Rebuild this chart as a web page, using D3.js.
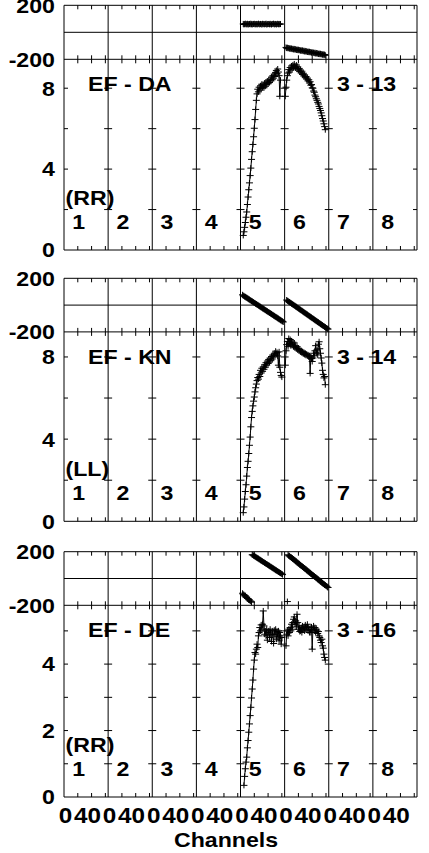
<!DOCTYPE html>
<html><head><meta charset="utf-8">
<script src="https://cdn.jsdelivr.net/npm/d3@7"></script>
<style>
body{margin:0;background:#fff}
svg{display:block}
text{font-family:"Liberation Sans",Arial,sans-serif;font-weight:bold;fill:#000}
</style>
</head><body>
<svg id="c" width="429" height="853"></svg>
<script>
// ---------------- categories / labels ----------------
const ifNames = ["1","2","3","4","5","6","7","8"];
const baselineNames = ["EF - DA","EF - KN","EF - DE"];
const scanNames = ["3 - 13","3 - 14","3 - 16"];
const polNames = ["(RR)","(LL)","(RR)"];
const ampMax = [9.43, 9.22, 5.77];
const ampTickVals = [[2,4,6,8],[2,4,6,8],[1,2,3,4,5]];
const ampLabelVals = [[0,4,8],[0,4,8],[0,2,4]];
const phaseLabelVals = [200,-200];
const chanTickVals = [20,40,60];
const chanLabelVals = [0,40];
const xTitle = "Channels";

// ---------------- data: first channel of each series ----------------
const startDA5amp = 4, startDA6amp = 1, startDA5phs = 4, startDA6phs = 2;
const startKN5amp = 4, startKN6amp = 1, startKN5phs = 3, startKN6phs = 3;
const startDE5amp = 5, startDE6amp = 2, startDE5phs = 3, startDE6phs = 4;

// EF - DA (RR)
const ampDA5 = [0.72,0.9,1.12,1.36,1.62,1.88,2.25,2.62,2.98,3.32,
  3.68,4.05,4.48,4.86,5.22,5.6,6.02,6.45,6.95,7.4,
  7.72,7.95,7.82,8.05,7.9,8.12,7.98,8.2,8.05,8.15,
  8.02,8.25,8.1,8.3,8.18,8.35,8.22,8.4,8.28,8.45,
  8.36,8.55,8.42,8.62,8.5,8.7,8.58,8.78,8.88,8.72,
  8.95,8.8,8.62,7.6,8.4];
const ampDA6 = [7.6,8.05,8.4,8.62,8.75,8.92,8.8,9.02,8.9,9.1,
  8.98,9.15,9.02,9.2,9.08,9.0,9.15,8.95,9.06,8.9,
  8.98,8.82,8.9,8.75,8.84,8.68,8.74,8.6,8.66,8.52,
  8.58,8.45,8.5,8.36,8.42,8.26,8.32,8.15,8.18,8.02,
  8.0,7.86,7.8,7.66,7.58,7.48,7.4,7.3,7.22,7.1,
  7.0,6.9,6.78,6.64,6.5,6.38,6.24,6.1,5.95];
const phsDA5 = [62,58,61,64,59,60,63,57,61,62,
  59,64,60,58,62,61,63,59,60,62,
  58,61,64,60,59,62,61,57,63,60,
  62,59,61,64,58,60,62,61,59,63,
  60,58,62,61,64,59,60,62,58,61,
  63,60,59,62,61];
const phsDA6 = [-112,-117,-114,-119,-116,-121,-118,-123,-120,-125,
  -122,-127,-123,-129,-125,-131,-127,-132,-129,-134,
  -131,-136,-133,-138,-134,-140,-136,-142,-138,-144,
  -140,-146,-142,-147,-144,-149,-146,-151,-148,-153,
  -150,-155,-151,-157,-153,-159,-155,-161,-157,-162,
  -159,-164,-161,-166,-163,-168,-165,-170];

// EF - KN (LL)
const ampKN5 = [0.42,0.7,1.08,1.45,1.78,2.2,2.62,2.92,3.3,3.7,
  4.1,4.6,5.05,5.35,5.62,5.85,6.05,6.3,6.5,6.68,
  6.85,7.0,6.92,7.15,7.05,7.35,7.22,7.45,7.3,7.52,
  7.4,7.62,7.5,7.72,7.6,7.8,7.68,7.88,7.75,7.95,
  7.82,8.02,7.9,8.1,8.0,8.18,8.08,8.28,8.15,8.22,
  8.05,7.6,8.25,7.5,7.25,7.1,7.02];
const ampKN6 = [7.6,8.3,8.6,8.75,8.5,8.9,8.65,8.85,8.55,8.78,
  8.6,8.72,8.5,8.68,8.45,8.55,8.4,8.5,8.35,8.42,
  8.3,8.36,8.25,8.3,8.2,8.26,8.15,8.22,8.12,8.18,
  8.08,8.14,8.05,8.1,8.0,8.06,7.2,8.0,7.92,7.78,
  7.95,8.18,8.05,8.3,8.55,8.2,8.35,8.1,8.62,8.74,
  8.4,8.18,7.95,7.7,7.35,7.15,6.98,7.05,6.65];
const phsKN5 = [77,70,69,63,62,56,56,50,49,43,
  42,36,35,29,29,23,22,16,15,9,
  8,2,2,-4,-5,-11,-12,-18,-19,-25,
  -25,-31,-32,-38,-39,-45,-46,-52,-53,-58,
  -59,-65,-66,-72,-73,-79,-80,-86,-87,-92,
  -93,-99,-100,-106,-107,-113,-114,-120,-121,-126];
const phsKN6 = [38,32,31,25,23,18,16,10,9,3,
  2,-4,-5,-11,-12,-18,-20,-26,-27,-33,
  -34,-40,-41,-47,-49,-55,-56,-62,-63,-69,
  -70,-76,-78,-84,-85,-91,-92,-98,-99,-105,
  -107,-113,-114,-120,-121,-127,-128,-134,-136,-142,
  -143,-149,-150,-156,-157,-163,-164,-171,-172,-177,-179];

// EF - DE (RR)
const ampDE5 = [0.35,0.62,0.85,1.05,1.2,1.48,1.7,1.95,2.2,2.45,
  2.7,2.98,3.25,3.52,3.85,4.12,4.35,4.3,4.45,4.6,
  4.5,4.85,4.95,5.1,5.0,5.18,5.05,5.2,5.6,5.15,
  4.9,5.0,4.85,5.05,4.72,4.95,5.0,4.8,5.05,4.9,
  4.68,5.0,4.88,4.62,5.02,4.9,5.05,4.75,4.98,4.82,
  5.0,4.7,4.95,4.85,4.6,4.8];
const ampDE6 = [4.55,4.9,5.0,4.85,5.05,4.95,5.1,5.0,5.2,5.05,
  5.25,5.35,5.42,5.2,5.3,5.12,5.5,5.25,5.05,5.15,
  4.98,5.0,5.1,4.95,5.15,5.05,5.12,5.0,5.18,5.05,
  5.12,5.2,5.0,5.1,4.95,5.05,4.95,5.12,4.45,5.05,
  5.15,5.0,5.1,4.95,5.05,5.0,4.92,4.98,4.85,4.8,
  4.72,4.65,4.75,4.55,4.48,4.3,4.2,4.12];
const phsDE5 = [-110,-119,-121,-129,-130,-139,-140,-149,-150,-158,
  -160,-168,-170,-177,
  177,176,170,169,163,162,156,155,150,149,
  143,142,136,135,130,128,123,122,116,115,
  109,108,103,101,96,95,89,88,83,81,
  76,75,69,68,62,61,56,54,49,48,
  42,41,36,34,29];
const phsDE6 = [-172,
  177,170,169,162,160,154,152,145,144,137,
  135,128,127,120,118,112,110,103,101,95,
  93,86,85,78,76,70,68,61,59,53,
  51,44,43,36,34,28,26,19,17,11,
  9,2,1,-6,-8,-14,-16,-23,-25,-31,
  -33,-40,-41,-48,-50,-56,-58,-65,-67];

// ---------------- build series table ----------------
const ampSeries = [
  {p:0, ifn:"5", start:startDA5amp, v:ampDA5},
  {p:0, ifn:"6", start:startDA6amp, v:ampDA6},
  {p:1, ifn:"5", start:startKN5amp, v:ampKN5},
  {p:1, ifn:"6", start:startKN6amp, v:ampKN6},
  {p:2, ifn:"5", start:startDE5amp, v:ampDE5},
  {p:2, ifn:"6", start:startDE6amp, v:ampDE6}
];
const phsSeries = [
  {p:0, ifn:"5", start:startDA5phs, v:phsDA5},
  {p:0, ifn:"6", start:startDA6phs, v:phsDA6},
  {p:1, ifn:"5", start:startKN5phs, v:phsKN5},
  {p:1, ifn:"6", start:startKN6phs, v:phsKN6},
  {p:2, ifn:"5", start:startDE5phs, v:phsDE5},
  {p:2, ifn:"6", start:startDE6phs, v:phsDE6}
];

// ---------------- layout ----------------
const svg = d3.select("#c");
const X0 = 64, X1 = 417;
const FS = 20.5, SX = 1.13;
const geo = [
  {pt:5.3, pb:59.3, ab:250},
  {pt:278.3, pb:331.9, ab:521.3},
  {pt:551.7, pb:605.3, ab:797}
];
const ifBand = d3.scaleBand().domain(ifNames).range([X0, X1]);
const W = ifBand.bandwidth();
const chan = d3.scaleLinear().domain([0, 64]).range([0, W]);
const xOf = (ifn, c) => ifBand(ifn) + chan(c);
const plusPath = "M-3.5,0H3.5M0,-3V3";

const ln = (g, x1, y1, x2, y2) => g.append("line")
  .attr("x1", x1).attr("y1", y1).attr("x2", x2).attr("y2", y2)
  .attr("stroke", "#000").attr("stroke-width", 1);

// wide bold text helper
const txt = (g, x, y, s, anchor, dy, fs) => g.append("text")
  .attr("transform", `translate(${x},${y}) scale(${SX},1)`)
  .attr("text-anchor", anchor || "start")
  .attr("dy", dy || 0)
  .attr("font-size", fs || FS).text(s);

geo.forEach((G, p) => {
  const g = svg.append("g");
  const yP = d3.scaleLinear().domain([-200, 200]).range([G.pb, G.pt]);
  const yA = d3.scaleLinear().domain([0, ampMax[p]]).range([G.ab, G.pb]);
  G.yP = yP; G.yA = yA;

  [yP(200), yP(0), yP(-200), yA(0)].forEach(y => ln(g, X0, y, X1, y));
  const edges = ifNames.map(n => ifBand(n)).concat([X1]);
  edges.forEach(x => ln(g, x, G.pt, x, G.ab));

  edges.forEach((x, i) => {
    ampTickVals[p].forEach(v => {
      const y = yA(v);
      const l = i === 0 ? x : x - 4;
      const r = i === edges.length - 1 ? x : x + 4;
      ln(g, l, y, r, y);
    });
  });
  ifNames.forEach(n => {
    chanTickVals.forEach(c => {
      const x = xOf(n, c);
      ln(g, x, yP(200), x, yP(200) + 4);
      ln(g, x, yP(-200) - 4, x, yP(-200) + 4);
      ln(g, x, yA(0) - 4, x, yA(0));
    });
  });

  ampLabelVals[p].forEach(d => txt(g, 55, yA(d), String(d), "end", "0.36em"));
  phaseLabelVals.forEach(d => txt(g, 55, yP(d), String(d), "end", "0.36em"));

  txt(g, 88, G.pb + 32, baselineNames[p]);
  txt(g, 337, G.pb + 32, scanNames[p]);
  txt(g, 65.5, G.ab - 45, polNames[p]);
  ifNames.forEach(d => txt(g, ifBand(d) + 14.8, G.ab - 21, d, "middle"));
});

ampSeries.forEach(s => {
  const G = geo[s.p];
  const pts = s.v.map((v, i) => [xOf(s.ifn, s.start + i), G.yA(v)]);
  svg.append("path").attr("d", d3.line()(pts)).attr("fill", "none")
    .attr("stroke", "#000").attr("stroke-width", 1);
  svg.append("g").selectAll("path").data(pts).join("path")
    .attr("transform", d => `translate(${d[0]},${d[1]})`)
    .attr("d", plusPath).attr("stroke", "#000").attr("stroke-width", 1).attr("fill", "none");
});
phsSeries.forEach(s => {
  const G = geo[s.p];
  const pts = s.v.map((v, i) => [xOf(s.ifn, s.start + i), G.yP(v)]);
  svg.append("g").selectAll("path").data(pts).join("path")
    .attr("transform", d => `translate(${d[0]},${d[1]})`)
    .attr("d", plusPath).attr("stroke", "#000").attr("stroke-width", 1).attr("fill", "none");
});

// x axis labels (bottom panel): labels packed as in the original plot
const Gb = geo[2];
const labelShift = {0: 1.5, 40: -4.1};
const gx = svg.append("g");
ifNames.forEach(n => {
  chanLabelVals.forEach(c => txt(gx, xOf(n, c) + labelShift[c], Gb.ab + 26, String(c), "middle", 0, 21.5));
});
txt(svg, 226, 847, xTitle, "middle");
</script>
</body></html>
